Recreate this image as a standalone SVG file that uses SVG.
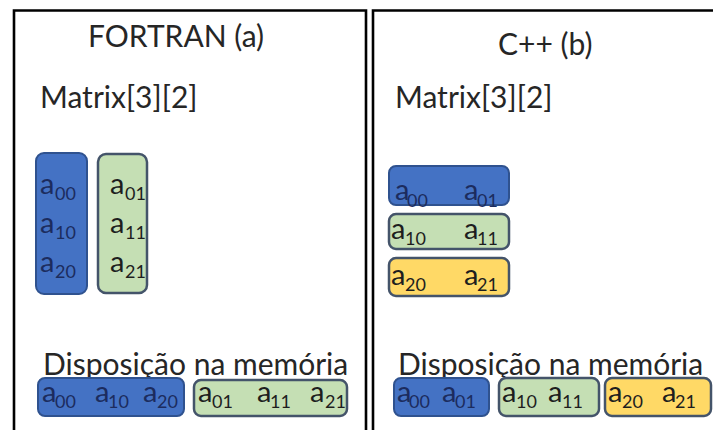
<svg xmlns="http://www.w3.org/2000/svg" width="713" height="430" viewBox="0 0 713 430">
<style>
.frame{fill:none;stroke:#000;stroke-width:2.6}
.t{font-family:Lato,"Liberation Sans",sans-serif;fill:#262626}
.big{font-size:30px}
.a{font-family:Lato,"Liberation Sans",sans-serif;font-size:29px}
.s{font-size:18px}
.blue{fill:#4472C4;stroke:#2F528F;stroke-width:2}
.green{fill:#C5DFB4;stroke:#44546A;stroke-width:2.5}
.yellow{fill:#FFD966;stroke:#44546A;stroke-width:2.5}
.onblue{fill:#1C2C5E}
.ondark{fill:#1E1E1E}
</style>
<rect width="713" height="430" fill="#fff"/>
<g id="panel-fortran">
<path class="frame" d="M14,431V10.5H366V431"/>
<text class="t big" x="88" y="47">FORTRAN (a)</text>
<text class="t big" x="40" y="108">Matrix[3][2]</text>
<text class="t big" x="43" y="375">Disposição na memória</text>
</g>
<g id="panel-cpp">
<path class="frame" d="M373,431V10.5H714"/>
<text class="t big" x="498" y="55">C++ (b)</text>
<text class="t big" x="395" y="108">Matrix[3][2]</text>
<text class="t big" x="398" y="375">Disposição na memória</text>
</g>
<g id="f-col0">
<rect class="blue" x="36" y="153" width="51" height="141" rx="8"/>
<text class="a onblue"><tspan x="40" y="194">a</tspan><tspan class="s" x="55" y="200">00</tspan><tspan x="40" y="233">a</tspan><tspan class="s" x="55" y="239">10</tspan><tspan x="40" y="272">a</tspan><tspan class="s" x="55" y="278">20</tspan></text>
</g>
<g id="f-col1">
<rect class="green" x="98" y="154" width="49" height="139" rx="8"/>
<text class="a ondark"><tspan x="110" y="194">a</tspan><tspan class="s" x="125" y="200">01</tspan><tspan x="110" y="233">a</tspan><tspan class="s" x="125" y="239">11</tspan><tspan x="110" y="272">a</tspan><tspan class="s" x="125" y="278">21</tspan></text>
</g>
<g id="c-row0">
<rect class="blue" x="389" y="166" width="120" height="39" rx="7"/>
<text class="a onblue"><tspan x="395" y="200">a</tspan><tspan class="s" x="407" y="207">00</tspan><tspan x="464" y="200">a</tspan><tspan class="s" x="477" y="207">01</tspan></text>
</g>
<g id="c-row1">
<rect class="green" x="389" y="214" width="120" height="35" rx="7"/>
<text class="a ondark"><tspan x="391" y="239">a</tspan><tspan class="s" x="405" y="245">10</tspan><tspan x="464" y="239">a</tspan><tspan class="s" x="477" y="245">11</tspan></text>
</g>
<g id="c-row2">
<rect class="yellow" x="389" y="258" width="120" height="38" rx="7"/>
<text class="a ondark"><tspan x="391" y="285">a</tspan><tspan class="s" x="405" y="291">20</tspan><tspan x="464" y="285">a</tspan><tspan class="s" x="477" y="291">21</tspan></text>
</g>
<g id="f-mem0">
<rect class="blue" x="38" y="378" width="146" height="38" rx="7"/>
<text class="a onblue"><tspan x="42" y="402">a</tspan><tspan class="s" x="55" y="408">00</tspan><tspan x="95" y="402">a</tspan><tspan class="s" x="108" y="408">10</tspan><tspan x="143" y="402">a</tspan><tspan class="s" x="157" y="408">20</tspan></text>
</g>
<g id="f-mem1">
<rect class="green" x="194" y="380" width="153" height="36" rx="7"/>
<text class="a ondark"><tspan x="198" y="402">a</tspan><tspan class="s" x="212" y="408">01</tspan><tspan x="257" y="402">a</tspan><tspan class="s" x="270" y="408">11</tspan><tspan x="310" y="402">a</tspan><tspan class="s" x="325" y="408">21</tspan></text>
</g>
<g id="c-mem0">
<rect class="blue" x="394" y="378" width="95" height="38" rx="7"/>
<text class="a onblue"><tspan x="397" y="402">a</tspan><tspan class="s" x="409" y="408">00</tspan><tspan x="442" y="402">a</tspan><tspan class="s" x="455" y="408">01</tspan></text>
</g>
<g id="c-mem1">
<rect class="green" x="499" y="378" width="100" height="38" rx="7"/>
<text class="a ondark"><tspan x="502" y="402">a</tspan><tspan class="s" x="516" y="408">10</tspan><tspan x="548" y="402">a</tspan><tspan class="s" x="562" y="408">11</tspan></text>
</g>
<g id="c-mem2">
<rect class="yellow" x="605" y="378" width="106" height="38" rx="7"/>
<text class="a ondark"><tspan x="608" y="402">a</tspan><tspan class="s" x="622" y="408">20</tspan><tspan x="662" y="402">a</tspan><tspan class="s" x="675" y="408">21</tspan></text>
</g>
<g id="connectors"/>
</svg>
